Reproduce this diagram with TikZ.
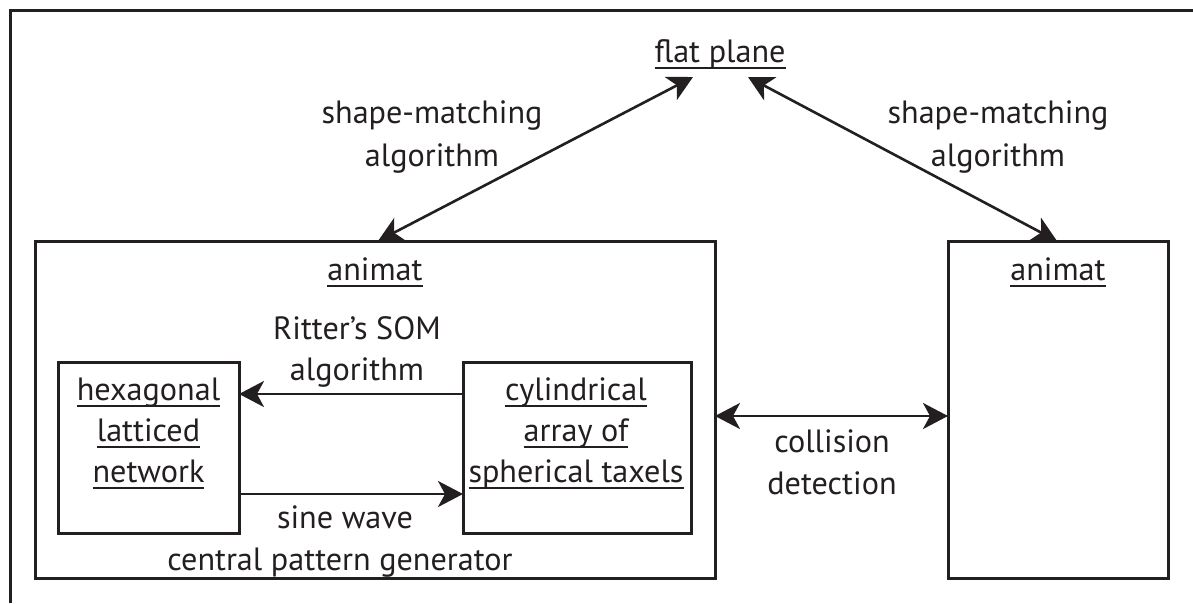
\documentclass[tikz,border=0pt]{standalone}
\usepackage{fontspec}
\setmainfont{PT Sans}
\usetikzlibrary{arrows.meta}
\definecolor{ink}{RGB}{35,31,32}
\newsavebox\ulbox
\newcommand\ulx[1]{\sbox\ulbox{#1}\rlap{\usebox\ulbox}\rule[-6.5pt]{\wd\ulbox}{2pt}}
\newlength\fsz
\sbox0{\fontsize{10pt}{12pt}\selectfont spherical taxels}
\setlength\fsz{\numexpr 655360*\dimexpr215pt\relax/\wd0\relax sp}
\newcommand\lbl{\fontsize{\fsz}{1.25\fsz}\selectfont}
\begin{document}
\begin{tikzpicture}[x=1pt,y=-1pt,
  box/.style={draw=ink, line width=3pt, inner sep=0pt, outer sep=0pt},
  txt/.style={anchor=base, inner sep=0pt, font=\lbl, text=ink},
  tip/.tip={Stealth[length=25pt,width=26pt,inset=7pt]},
  arr/.style={draw=ink, line width=2.6pt, tip-tip},
  arrone/.style={draw=ink, line width=2.6pt, -tip}]
\useasboundingbox (0,0) rectangle (1193,603);
% outer frame (top and left edges)
\draw[line width=3pt, ink] (10,603) -- (10,10) -- (1193,10);
% boxes
\node[box, minimum width=680pt, minimum height=337pt] (anim1) at (375,409.5) {};
\node[box, minimum width=220pt, minimum height=337pt] (anim2) at (1058,409.5) {};
\node[box, minimum width=181pt, minimum height=171pt] (hex) at (148.5,447.5) {};
\node[box, minimum width=228pt, minimum height=171pt] (cyl) at (577,447.5) {};
% texts
\node[txt] (fp) at (720,62) {\ulx{flat plane}};
\node[txt] (sm1a) at (432,123) {shape-matching};
\node[txt] (sm1b) at (432,166) {algorithm};
\node[txt] (sm2a) at (998,123) {shape-matching};
\node[txt] (sm2b) at (998,166) {algorithm};
\node[txt] (an1) at (375,280) {\ulx{animat}};
\node[txt] (an2) at (1058,280) {\ulx{animat}};
\node[txt] (rit1) at (357,339) {Ritter's SOM};
\node[txt] (rit2) at (357,380) {algorithm};
\node[txt] (hex1) at (148.5,400) {\ulx{hexagonal}};
\node[txt] (hex2) at (148.5,441) {\ulx{latticed}};
\node[txt] (hex3) at (148.5,482) {\ulx{network}};
\node[txt] (cyl1) at (576,400) {\ulx{cylindrical}};
\node[txt] (cyl2) at (576,441) {\ulx{array of}};
\node[txt] (cyl3) at (576,482) {\ulx{spherical taxels}};
\node[txt] (sw1) at (345,528) {sine wave};
\node[txt] (sw2) at (340,570) {central pattern generator};
\node[txt] (col1) at (832,452) {collision};
\node[txt] (col2) at (832,494) {detection};
% connectors
\coordinate (fpL) at (693,77);
\coordinate (fpR) at (748,77);
\draw[arr] ([xshift=3pt]anim1.north) -- (fpL);
\draw[arr] (fpR) -- ([xshift=-1pt]anim2.north);
\draw[arrone] ([yshift=53.5pt]cyl.west) -- ([yshift=53.5pt]hex.east);
\draw[arrone] ([yshift=-46.5pt]hex.east) -- ([yshift=-46.5pt]cyl.west);
\draw[arr] ([yshift=-6.5pt]anim1.east) -- ([yshift=-6.5pt]anim2.west);
\end{tikzpicture}
\end{document}
